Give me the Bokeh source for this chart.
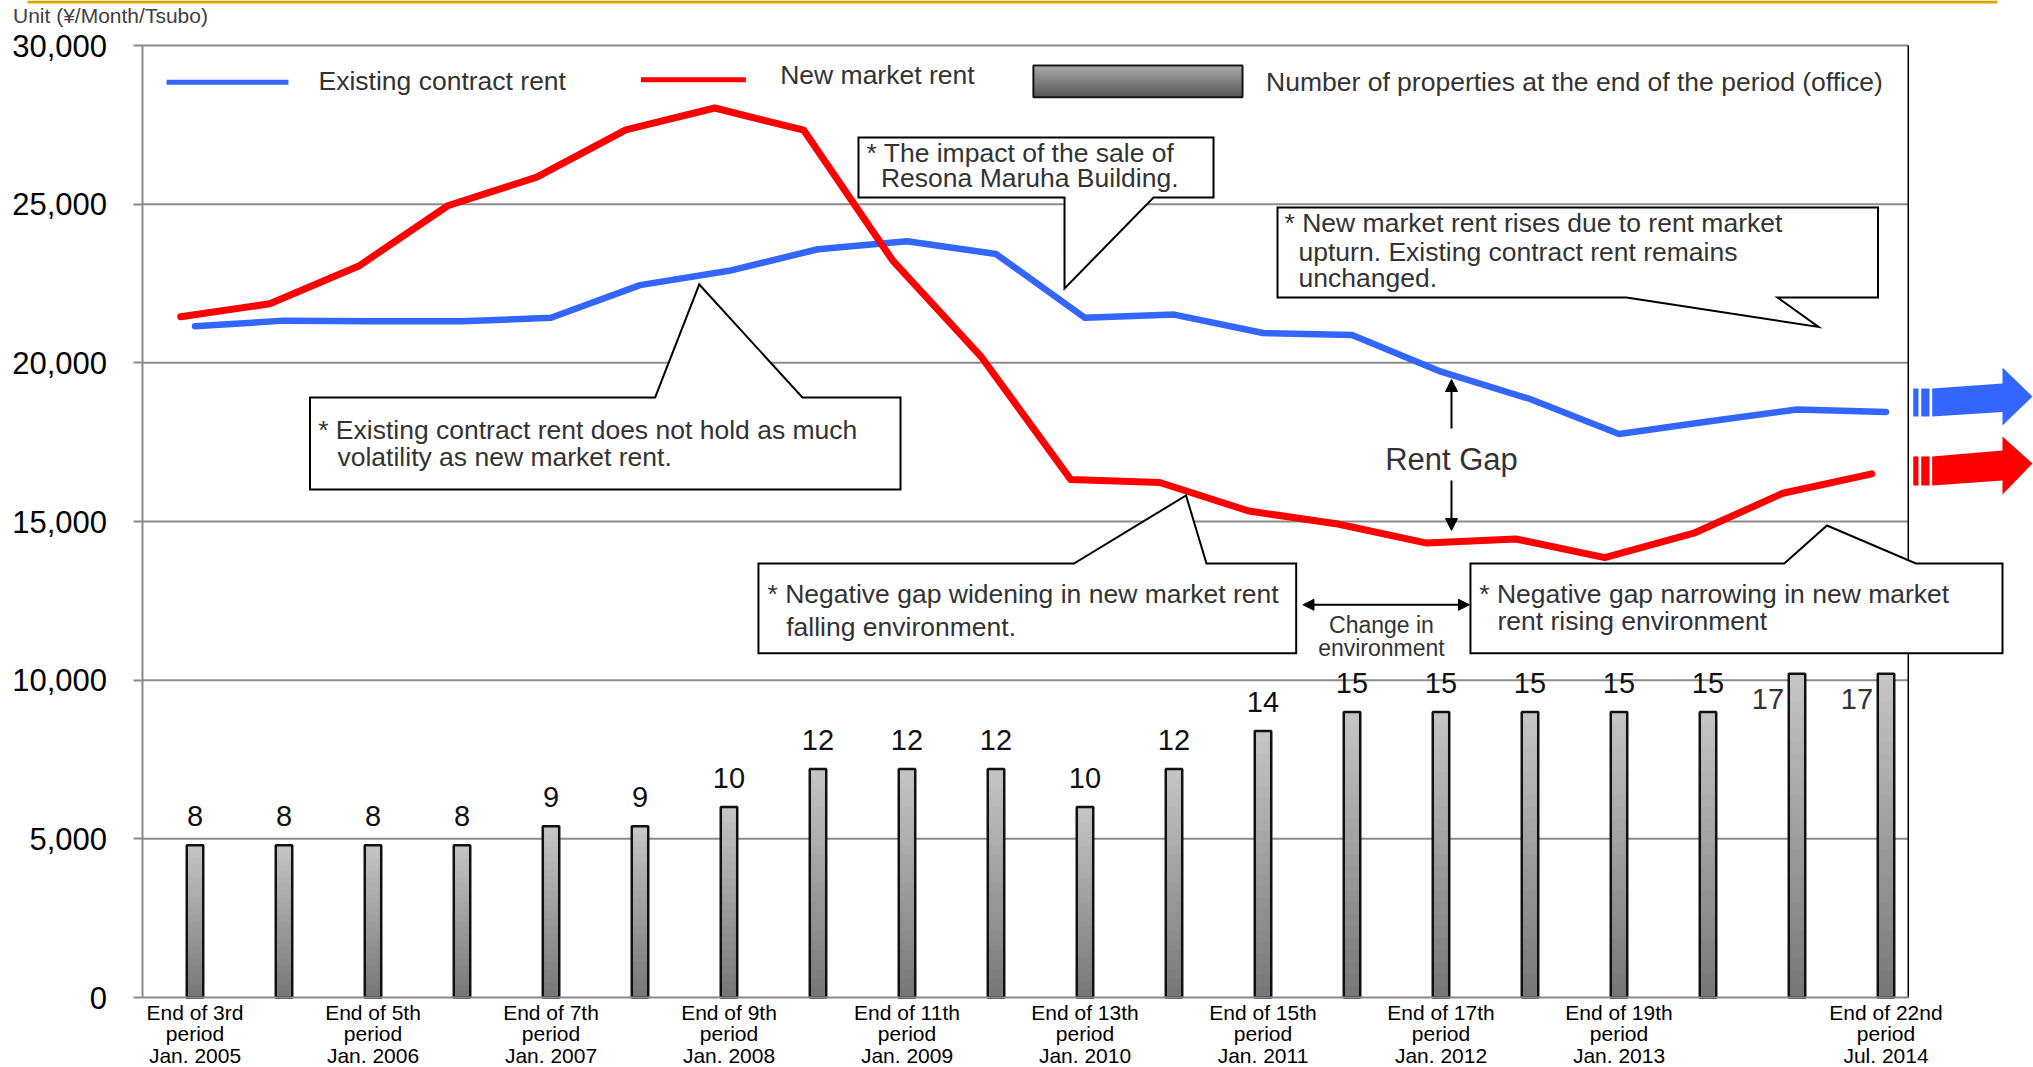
from bokeh.plotting import figure
from bokeh.models import (Range1d, FixedTicker, NumeralTickFormatter, ColumnDataSource,
                          Arrow, NormalHead)
from bokeh.transform import dodge
from bokeh.core.properties import value
from bokeh.embed import file_html
from bokeh.resources import INLINE

# ---------------- data ----------------
periods = ["3rd", "4th", "5th", "6th", "7th", "8th", "9th", "10th", "11th", "12th",
           "13th", "14th", "15th", "16th", "17th", "18th", "19th", "20th", "21st", "22nd"]
property_counts = [8, 8, 8, 8, 9, 9, 10, 12, 12, 12, 10, 12, 14, 15, 15, 15, 15, 15, 17, 17]
existing_contract_rent = [21150, 21330, 21310, 21310, 21420, 22450, 22900, 23580, 23830, 23430,
                          21420, 21520, 20940, 20880, 19720, 18860, 17760, 18150, 18530, 18450]
new_market_rent = [21450, 21860, 23050, 24950, 25850, 27340, 28030, 27330, 23220, 20170,
                   16320, 16230, 15330, 14920, 14320, 14450, 13860, 14630, 15890, 16500]
tick_positions = [0, 2, 4, 6, 8, 10, 12, 14, 16, 19]
tick_labels = ["End of 3rd\nperiod\nJan. 2005", "End of 5th\nperiod\nJan. 2006",
               "End of 7th\nperiod\nJan. 2007", "End of 9th\nperiod\nJan. 2008",
               "End of 11th\nperiod\nJan. 2009", "End of 13th\nperiod\nJan. 2010",
               "End of 15th\nperiod\nJan. 2011", "End of 17th\nperiod\nJan. 2012",
               "End of 19th\nperiod\nJan. 2013", "End of 22nd\nperiod\nJul. 2014"]
y_ticks = [0, 5000, 10000, 15000, 20000, 25000, 30000]
yen_per_property = 600   # bar scale on the rent axis (10 properties = 6,000)

# ---------------- layout ----------------
FONT = value("Liberation Sans")
W, H = 2033, 1067
PX_PER_CAT = 89.0
x_start = -194.5 / PX_PER_CAT
x_end = x_start + W / PX_PER_CAT
YEN_PER_PX = 30000 / 952.0
y_start = -70 * YEN_PER_PX
y_end = 30000 + 45 * YEN_PER_PX
plot_left = -0.5955
plot_right = 19.25

p = figure(width=W, height=H, x_range=Range1d(x_start, x_end), y_range=Range1d(y_start, y_end),
           output_backend="svg", toolbar_location=None,
           min_border=0, min_border_left=0, min_border_right=0, min_border_top=0,
           min_border_bottom=0, outline_line_color=None,
           background_fill_color="white", border_fill_color="white")
p.extra_y_ranges = {"count": Range1d(y_start / yen_per_property, y_end / yen_per_property)}
p.xgrid.visible = False
p.ygrid.visible = False

ya = p.yaxis[0]
ya.fixed_location = plot_left
ya.ticker = FixedTicker(ticks=y_ticks)
ya.formatter = NumeralTickFormatter(format="0,0")
ya.bounds = (0, 30000)
ya.axis_line_color = "#8a8a8a"
ya.axis_line_width = 2
ya.major_tick_out = 9
ya.major_tick_in = 0
ya.major_tick_line_color = "#8a8a8a"
ya.major_tick_line_width = 2
ya.minor_tick_line_color = None
ya.major_label_standoff = 26
ya.major_label_text_font = "Liberation Sans"
ya.major_label_text_font_size = "31px"
ya.major_label_text_color = "black"

xa = p.xaxis[0]
xa.fixed_location = 0
xa.ticker = FixedTicker(ticks=tick_positions)
xa.major_label_overrides = dict(zip(tick_positions, tick_labels))
xa.bounds = (plot_left, plot_right)
xa.axis_line_color = "#8a8a8a"
xa.axis_line_width = 2
xa.major_tick_out = 0
xa.major_tick_in = 0
xa.major_tick_line_color = None
xa.minor_tick_line_color = None
xa.major_label_standoff = 3
xa.major_label_text_font = "Liberation Sans"
xa.major_label_text_font_size = "21px"
xa.major_label_text_line_height = 0.95
xa.major_label_text_color = "black"

# gridlines + right border
p.segment(x0=plot_left, x1=plot_right, y0="y", y1="y",
          source=ColumnDataSource(dict(y=y_ticks[1:])), line_color="#8c8c8c", line_width=2)
p.segment(x0=[plot_right], x1=[plot_right], y0=[0], y1=[30000], line_color="black", line_width=1.5)

# ---------------- bars (vertical gradient) ----------------
idx = list(range(len(periods)))
N = 24
BAR_W = 0.185
def mix(c0, c1, t):
    return "#%02x%02x%02x" % tuple(int(round(a + (b - a) * t)) for a, b in zip(c0, c1))
dark, light = (0x78, 0x78, 0x78), (0xc4, 0xc4, 0xc4)
lx, lb, lt, lc = [], [], [], []
for k in range(N):
    for i, c in zip(idx, property_counts):
        lx.append(i); lb.append(c * k / N); lt.append(c); lc.append(mix(dark, light, k / (N - 1)))
p.vbar(x="x", bottom="b", top="t", width=BAR_W, fill_color="c", line_color=None,
       source=ColumnDataSource(dict(x=lx, b=lb, t=lt, c=lc)), y_range_name="count")
bars = ColumnDataSource(dict(x=idx, n=property_counts))
p.vbar(x="x", top="n", width=BAR_W, fill_color=None, line_color="#111111", line_width=2.5,
       source=bars, y_range_name="count")

top_n = max(property_counts)
normal = ColumnDataSource(dict(x=[i for i, c in zip(idx, property_counts) if c < top_n],
                               n=[c for c in property_counts if c < top_n],
                               label=[str(c) for c in property_counts if c < top_n]))
side = ColumnDataSource(dict(x=[i for i, c in zip(idx, property_counts) if c == top_n],
                             n=[c for c in property_counts if c == top_n],
                             label=[str(c) for c in property_counts if c == top_n]))
p.text(x="x", y="n", text="label", source=normal, y_range_name="count", text_font=FONT,
       text_font_size=value("29px"), text_align="center", text_baseline="middle",
       y_offset=-29, text_color="#111111")
p.text(x="x", y="n", text="label", source=side, y_range_name="count", text_font=FONT,
       text_font_size=value("29px"), text_align="center", text_baseline="middle",
       x_offset=-29, y_offset=25, text_color="#333333")

# ---------------- lines ----------------
src = ColumnDataSource(dict(x=idx, existing=existing_contract_rent, new=new_market_rent))
p.line("x", "existing", source=src, line_color="#3366ff", line_width=6.5,
       line_cap="round", line_join="round")
p.line(x=dodge("x", -0.16), y="new", source=src, line_color="#ff0000", line_width=7,
       line_cap="round", line_join="round")

# ---------------- legend (drawn) ----------------
TXT = "#333333"
NOTE_SIZE = value("26.5px")
p.segment(x0=[-0.32], x1=[1.05], y0=[28843], y1=[28843], line_color="#3366ff", line_width=5)
p.segment(x0=[5.01], x1=[6.19], y0=[28920], y1=[28920], line_color="#ff0000", line_width=5)
gx0, gx1, gy0, gy1 = 9.42, 11.77, 28371, 29368
g_dark, g_light = (0x58, 0x58, 0x58), (0xa8, 0xa8, 0xa8)
p.quad(left=[gx0] * N, right=[gx1] * N, bottom=[gy0] * N,
       top=[gy1 - (gy1 - gy0) * k / N for k in range(N)],
       fill_color=[mix(g_light, g_dark, k / (N - 1)) for k in range(N)], line_color=None)
p.quad(left=[gx0], right=[gx1], bottom=[gy0], top=[gy1], fill_color=None,
       line_color="#151515", line_width=2)
p.text(x=[1.388, 6.575, 12.034], y=[28870, 29086, 28845],
       text=["Existing contract rent", "New market rent",
             "Number of properties at the end of the period (office)"],
       text_font=FONT, text_font_size=NOTE_SIZE, text_color=TXT,
       text_align="left", text_baseline="middle")

# ---------------- callouts ----------------
callout_xs = [
    [7.455, 11.444, 11.444, 10.770, 9.770, 9.770, 7.455],
    [12.163, 18.910, 18.910, 17.781, 18.242, 16.084, 12.163],
    [1.292, 5.170, 5.666, 6.825, 7.927, 7.927, 1.292],
    [6.331, 9.876, 11.135, 11.365, 12.373, 12.373, 6.331],
    [14.331, 17.857, 18.337, 19.336, 20.309, 20.309, 14.331],
]
callout_ys = [
    [27101, 27101, 25210, 25210, 22343, 25210, 25210],
    [24895, 24895, 22059, 22059, 21133, 22059, 22059],
    [18908, 18908, 22469, 18908, 18908, 16009, 16009],
    [13677, 13677, 15820, 13677, 13677, 10850, 10850],
    [13677, 13677, 14874, 13677, 13677, 10850, 10850],
]
p.patches(xs=callout_xs, ys=callout_ys, fill_color="white", line_color="black",
          line_width=2, line_join="miter")

note_text = ["* The impact of the sale of", "Resona Maruha Building.",
             "* New market rent rises due to rent market", "upturn. Existing contract rent remains",
             "unchanged.",
             "* Existing contract rent does not hold as much", "volatility as new market rent.",
             "* Negative gap widening in new market rent", "falling environment.",
             "* Negative gap narrowing in new market", "rent rising environment"]
note_x = [7.545, 7.707, 12.242, 12.399, 12.399, 1.384, 1.601, 6.433, 6.643, 14.43, 14.635]
note_y = [26597, 25823, 24391, 23493, 22674, 17899, 17036, 12700, 11691, 12700, 11850]
p.text(x=note_x, y=note_y, text=note_text, text_font=FONT, text_font_size=NOTE_SIZE,
       text_color=TXT, text_align="left", text_baseline="middle")

p.text(x=[13.331, 13.331], y=[11723, 10998], text=["Change in", "environment"],
       text_font=FONT, text_font_size=value("23px"), text_color=TXT,
       text_align="center", text_baseline="middle")
p.add_layout(Arrow(start=NormalHead(size=11, fill_color="black", line_color="black"),
                   end=NormalHead(size=11, fill_color="black", line_color="black"),
                   x_start=12.449, y_start=12375, x_end=14.320, y_end=12375,
                   line_color="black", line_width=2))

p.text(x=[14.118], y=[16954], text=["Rent Gap"], text_font=FONT, text_font_size=value("31px"),
       text_color=TXT, text_align="center", text_baseline="middle")
p.add_layout(Arrow(end=NormalHead(size=12, fill_color="black", line_color="black"),
                   x_start=14.118, y_start=17931, x_end=14.118, y_end=19475,
                   line_color="black", line_width=2))
p.add_layout(Arrow(end=NormalHead(size=12, fill_color="black", line_color="black"),
                   x_start=14.118, y_start=16292, x_end=14.118, y_end=14717,
                   line_color="black", line_width=2))

# ---------------- trend arrows at right ----------------
def trend_arrow(color, yl_top, yl_bot, yr_top, yr_bot, yh_top, yh_bot, y_tip):
    p.quad(left=[19.306, 19.396], right=[19.365, 19.489], bottom=[yl_bot] * 2, top=[yl_top] * 2,
           fill_color=color, line_color=None)
    p.patch(x=[19.519, 20.309, 20.309, 20.646, 20.309, 20.309, 19.519],
            y=[yl_top, yr_top, yh_top, y_tip, yh_bot, yr_bot, yl_bot],
            fill_color=color, line_color=None)
trend_arrow("#3366ff", 19191, 18309, 19349, 18451, 19853, 18025, 18938)
trend_arrow("#ff0000", 17049, 16135, 17238, 16292, 17679, 15851, 16828)

# ---------------- header ----------------
p.text(x=[-2.045], y=[30945], text=["Unit (¥/Month/Tsubo)"], text_font=FONT,
       text_font_size=value("21px"), text_color="#404040", text_align="left",
       text_baseline="middle")
p.quad(left=[-1.882], right=[20.253], bottom=[31324], top=[y_end],
       fill_color="#d8a700", line_color=None)

open("out.html", "w").write(file_html(p, INLINE))
